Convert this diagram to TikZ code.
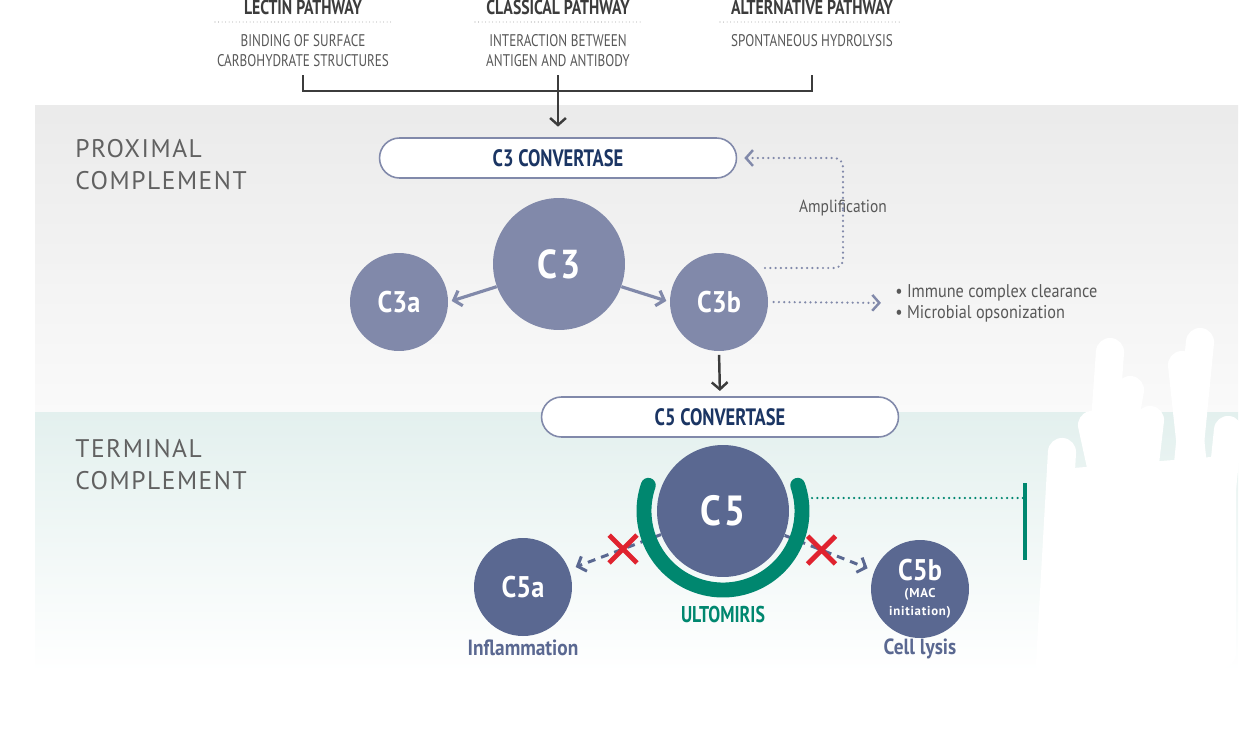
\documentclass[tikz,border=0pt]{standalone}
\usepackage{fontspec}
\setmainfont{PT Sans}
\newfontfamily\condfont[FakeStretch=0.78]{PT Sans}
\newfontfamily\semicond[FakeStretch=0.88]{PT Sans}
\newfontfamily\zonefont[LetterSpace=6]{PT Sans}
\newfontfamily\macfont[LetterSpace=6]{PT Sans}
\usetikzlibrary{calc,shapes,positioning,arrows.meta}

\definecolor{cthree}{HTML}{8189AA}
\definecolor{cfive}{HTML}{5A6891}
\definecolor{navy}{HTML}{1B3563}
\definecolor{ulto}{HTML}{00876F}
\definecolor{darkline}{HTML}{3C3C3C}
\definecolor{labgrey}{HTML}{585858}
\definecolor{xred}{HTML}{E0232F}

\begin{document}
\begin{tikzpicture}[x=0.02cm,y=-0.02cm]

     \tikzstyle{every node}=[inner sep=0pt]
     \tikzstyle{pathtitle}=[font=\condfont\bfseries\fontsize{11.5}{13}\selectfont,text=darkline]
     \tikzstyle{pathsub}=[font=\condfont\fontsize{9.6}{11.3}\selectfont,text=labgrey,align=center]
     \tikzstyle{zone}=[font=\zonefont\fontsize{14.5}{18}\selectfont,text=black!62,align=left,anchor=north west]
     \tikzstyle{convbox}=[rounded rectangle,draw=cthree,line width=0.9pt,fill=white,minimum width=7.14cm,minimum height=0.8cm,font=\condfont\bfseries\fontsize{13.5}{15}\selectfont,text=navy]
     \tikzstyle{prot}=[circle,fill=cthree,text=white,font=\semicond\bfseries\fontsize{17}{18}\selectfont]
     \tikzstyle{protb}=[circle,fill=cfive,text=white,font=\semicond\bfseries\fontsize{17}{18}\selectfont]
     \tikzstyle{effect}=[font=\semicond\bfseries\fontsize{12.5}{14}\selectfont,text=cfive]
     \tikzstyle{darkarrow}=[draw=darkline,line width=1.4pt,-{Straight Barb[length=4pt,width=9pt]}]
     \tikzstyle{cleave}=[draw=cthree,line width=1.8pt,-{Straight Barb[length=4pt,width=9pt]}]
     \tikzstyle{dotline}=[line width=1.4pt,dash pattern=on 0pt off 3pt,line cap=round]
     \tikzstyle{blocked}=[draw=cfive,line width=1.7pt,dash pattern=on 4.5pt off 3.5pt,-{Straight Barb[length=4pt,width=9pt]}]
     \tikzstyle{redx}=[cross out,draw=xred,line width=2.8pt,minimum size=13pt]
     \tikzstyle{scribble}=[white,line width=16pt,line cap=round]

     \useasboundingbox (0,0) rectangle (1250,754);
     % background bands
     \shade[top color=black!8,bottom color=black!2] (35,105) rectangle (1238,412);
     \shade[top color={rgb,255:red,227;green,240;blue,238},bottom color=white] (35,412) rectangle (1238,672);

     % pathways
     \node[pathtitle] at (303,7)(lectin){LECTIN PATHWAY};
     \node[pathtitle] at ($(lectin)+(255,0)$)(classical){CLASSICAL PATHWAY};
     \node[pathtitle] at ($(classical)+(254,0)$)(alternative){ALTERNATIVE PATHWAY};
     \node[pathsub] at ($(lectin)+(0,44)$)(lectinsub){BINDING OF SURFACE\\CARBOHYDRATE STRUCTURES};
     \node[pathsub] at ($(classical)+(0,44)$)(classicalsub){INTERACTION BETWEEN\\ANTIGEN AND ANTIBODY};
     \node[pathsub] at ($(alternative)+(0,34)$)(alternativesub){SPONTANEOUS HYDROLYSIS};
     \draw[black!35,line width=0.6pt,dash pattern=on 0pt off 2pt,line cap=round]
          ($(lectin)+(-88,15)$) -- ($(lectin)+(88,15)$)
          ($(classical)+(-83,15)$) -- ($(classical)+(83,15)$)
          ($(alternative)+(-92,15)$) -- ($(alternative)+(90,15)$);
     \draw[darkline,line width=1pt] ($(lectin)+(0,68)$) |- ($(alternative)+(0,84)$) -- ($(alternative)+(0,68)$);
     \coordinate (join) at ($(classical)+(0,68)$);

     \node[zone] at (75,139)(proximal){PROXIMAL\\COMPLEMENT};
     \node[zone] at (75,439)(terminal){TERMINAL\\COMPLEMENT};

     % proximal complement
     \node[convbox] at ($(classical)+(0,151)$)(c3conv){C3 CONVERTASE};
     \node[prot,minimum size=2.64cm,font=\semicond\bfseries\fontsize{23}{24}\selectfont] at ($(c3conv)+(1,106)$)(c3){C\kern2pt3};
     \node[prot,minimum size=1.96cm] at ($(c3)+(-160,38)$)(c3a){C3a};
     \node[prot,minimum size=1.96cm] at ($(c3)+(160,38)$)(c3b){C3b};
     \node[font=\semicond\fontsize{10}{12}\selectfont,text=labgrey] at ($(c3b)+(124,-94)$)(amp){Amplification};
     \node[font=\semicond\fontsize{10.5}{11.9}\selectfont,text=labgrey,align=left,anchor=west] at ($(c3b)+(176,1)$)(roles){\textbullet\ Immune complex clearance\\\textbullet\ Microbial opsonization};

     \draw[darkarrow,shorten >=6pt] (join) -- (c3conv.north);
     \draw[cleave,shorten >=2pt] (c3.200) -- (c3a.east);
     \draw[cleave,shorten >=2pt] (c3.340) -- (c3b.west);
     \draw[dotline,draw=cthree,rounded corners=5pt] ($(c3b)+(46,-34)$) -| ([yshift=5pt]amp.south);
     \draw[dotline,draw=cthree,rounded corners=5pt,-{Straight Barb[length=4pt,width=9pt]}] ([yshift=-5pt]amp.north) |- ([xshift=4pt]c3conv.east);
     \draw[dotline,draw=cthree,-{Straight Barb[length=4pt,width=9pt]},shorten <=3pt,shorten >=8pt] (c3b.east) -- (roles.west);

     % terminal complement
     \node[convbox] at ($(c3b)+(1,115)$)(c5conv){C5 CONVERTASE};
     \draw[darkarrow,shorten <=2pt,shorten >=3pt] (c3b.south) -- (c5conv.north);
     \node[protb,minimum size=2.64cm,font=\semicond\bfseries\fontsize{24}{25}\selectfont] at ($(c5conv)+(3,94)$)(c5){C\kern2pt5};
     \node[protb,minimum size=1.96cm] at ($(c5)+(-200,76)$)(c5a){C5a};
     \node[protb,minimum size=1.96cm] at ($(c5)+(197,78)$)(c5b){\shortstack{C5b\\[1pt]{\macfont\fontsize{7.3}{8}\selectfont(MAC}\\[0.5pt]{\macfont\fontsize{7.3}{8}\selectfont initiation)}}};
     \node[effect] at ($(c5a)+(0,61)$)(inflam){Inflammation};
     \node[effect] at ($(c5b)+(0,60)$)(lysis){Cell lysis};
     \node[font=\condfont\bfseries\fontsize{13}{14}\selectfont,text=ulto] at ($(c5)+(0,103)$)(ultomiris){ULTOMIRIS};

     \draw[blocked,shorten >=4pt] (c5) -- (c5a);
     \draw[blocked,shorten >=4pt] (c5) -- (c5b);
     \draw[ulto,line width=8.5pt,line cap=round] (c5) ++(199:79) arc[start angle=199,end angle=-19,radius=79];
     \node[redx] at ($(c5)!0.5!(c5a)$)(xleft){};
     \node[redx] at ($(c5)!0.5!(c5b)$)(xright){};

     \coordinate (blockbar) at (1025,498);
     \draw[dotline,draw=ulto] ($(c5)+(89,-13)$) -- (blockbar);
     \draw[ulto,line width=1.8pt] ($(blockbar)+(0,-15)$) -- ($(blockbar)+(0,62)$);

     % white scribble
     \fill[white,rounded corners=8pt] (1048,470) -- (1236,455) -- (1236,668) -- (1046,668) -- cycle;
     \foreach \xa/\ya/\xb/\yb in {1110/352/1088/660,1200/342/1168/668,1228/430/1204/664,1062/452/1050/664,1150/420/1122/660,1182/365/1214/660,1092/425/1140/645,1130/390/1100/560}
          \draw[scribble] (\xa,\ya) -- (\xb,\yb);

\end{tikzpicture}
\end{document}
